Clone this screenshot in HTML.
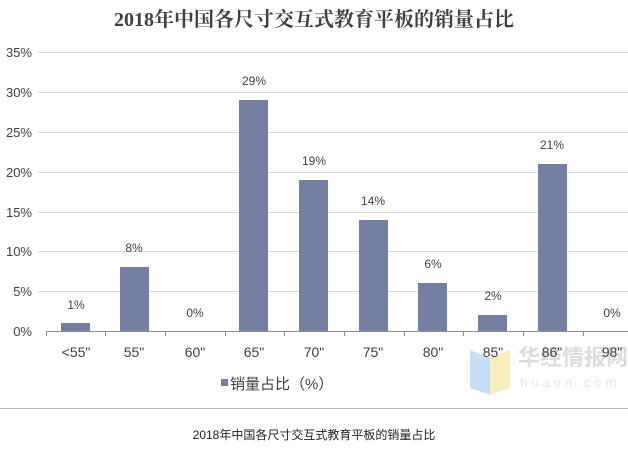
<!DOCTYPE html>
<html><head><meta charset="utf-8"><style>
body{margin:0;width:628px;height:445px;background:#fff;overflow:hidden}
</style></head><body>
<svg width="628" height="445" xmlns="http://www.w3.org/2000/svg" font-family="Liberation Sans, Noto Sans CJK SC, sans-serif">
<text x="314" y="26" text-anchor="middle" font-family="Liberation Serif, Noto Serif CJK SC, serif" font-size="20" font-weight="bold" fill="#404040">2018年中国各尺寸交互式教育平板的销量占比</text>
<g stroke="#d9d9d9" stroke-width="1">
<line x1="38" y1="52.5" x2="628" y2="52.5"/><line x1="38" y1="92.5" x2="628" y2="92.5"/>
<line x1="38" y1="132.5" x2="628" y2="132.5"/><line x1="38" y1="172.5" x2="628" y2="172.5"/>
<line x1="38" y1="212.5" x2="628" y2="212.5"/><line x1="38" y1="251.5" x2="628" y2="251.5"/>
<line x1="38" y1="291.5" x2="628" y2="291.5"/>
</g>
<g font-size="13" fill="#404040" text-anchor="end">
<text x="32" y="57">35%</text><text x="32" y="97">30%</text><text x="32" y="137">25%</text>
<text x="32" y="177">20%</text><text x="32" y="217">15%</text><text x="32" y="256">10%</text>
<text x="32" y="296">5%</text><text x="32" y="336">0%</text>
</g>
<g fill="#747fa3">
<rect x="61" y="323" width="29" height="8"/>
<rect x="120" y="267" width="29" height="64"/>
<rect x="239" y="100" width="29" height="231"/>
<rect x="299" y="180" width="29" height="151"/>
<rect x="359" y="220" width="29" height="111"/>
<rect x="418" y="283" width="29" height="48"/>
<rect x="478" y="315" width="29" height="16"/>
<rect x="538" y="164" width="29" height="167"/>
</g>
<g stroke="#8c8c8c" stroke-width="1">
<line x1="46" y1="331.5" x2="628" y2="331.5"/>
<line x1="46.5" y1="331" x2="46.5" y2="336"/><line x1="105.5" y1="331" x2="105.5" y2="336"/>
<line x1="165.5" y1="331" x2="165.5" y2="336"/><line x1="225.5" y1="331" x2="225.5" y2="336"/>
<line x1="284.5" y1="331" x2="284.5" y2="336"/><line x1="344.5" y1="331" x2="344.5" y2="336"/>
<line x1="404.5" y1="331" x2="404.5" y2="336"/><line x1="463.5" y1="331" x2="463.5" y2="336"/>
<line x1="523.5" y1="331" x2="523.5" y2="336"/><line x1="583.5" y1="331" x2="583.5" y2="336"/>
</g>
<g font-size="12" fill="#404040" text-anchor="middle">
<text x="76" y="309">1%</text><text x="134" y="252">8%</text><text x="195" y="317">0%</text>
<text x="254" y="85">29%</text><text x="314" y="165">19%</text><text x="373" y="205">14%</text>
<text x="433" y="268">6%</text><text x="493" y="300">2%</text><text x="552" y="149">21%</text>
<text x="612" y="317">0%</text>
</g>
<g opacity="0.5"><polygon points="470,350 490,358 490,395 470,388" fill="#8cc0f0"/><polygon points="490,358 510,350 510,388 490,395" fill="#f5dc7a"/>
<text x="518" y="365" font-size="22" font-weight="bold" fill="#bbb">华经情报网</text>
<text x="520" y="387" font-size="13" fill="#ccc" letter-spacing="4">huaon.com</text></g>
<g font-size="14" fill="#404040" text-anchor="middle">
<text x="76" y="357">&lt;55"</text><text x="134" y="357">55"</text><text x="195" y="357">60"</text>
<text x="254" y="357">65"</text><text x="314" y="357">70"</text><text x="373" y="357">75"</text>
<text x="433" y="357">80"</text><text x="493" y="357">85"</text><text x="552" y="357">86"</text>
<text x="612" y="357">98"</text>
</g>
<rect x="221" y="379" width="7" height="7" fill="#747fa3"/>
<text x="230" y="389" font-size="15" fill="#404040">销量占比（%）</text>
<line x1="0" y1="408.5" x2="628" y2="408.5" stroke="#bbb" stroke-width="1"/>
<text x="314" y="439" text-anchor="middle" font-size="12" fill="#222">2018年中国各尺寸交互式教育平板的销量占比</text>
</svg>
</body></html>
